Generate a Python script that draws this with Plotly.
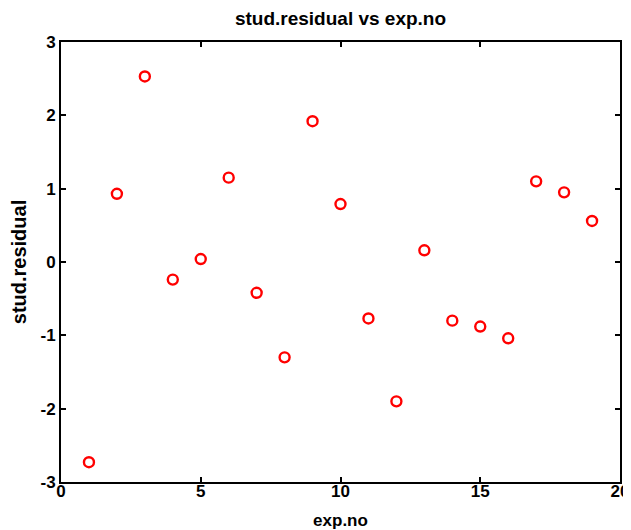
import plotly.graph_objects as go

exp_no = list(range(1, 20))
stud_residual = [-2.73, 0.93, 2.53, -0.24, 0.04, 1.15, -0.42, -1.30, 1.92, 0.79,
                 -0.77, -1.90, 0.16, -0.80, -0.88, -1.04, 1.10, 0.95, 0.56]
x_ticks = [0, 5, 10, 15, 20]
y_ticks = [-3, -2, -1, 0, 1, 2, 3]

font_family = "Liberation Sans, Arial, sans-serif"

fig = go.Figure()
fig.add_trace(go.Scatter(
    x=exp_no, y=stud_residual, mode="markers",
    marker=dict(symbol="circle-open", size=10, color="#ff0000",
                line=dict(width=2.4, color="#ff0000")),
    showlegend=False,
))

axis_common = dict(
    showgrid=False, zeroline=False, showline=True, linecolor="black",
    linewidth=2, mirror="ticks", ticks="inside", ticklen=5, tickwidth=2,
    tickcolor="black", automargin=False,
    tickfont=dict(family=font_family, size=17, color="black"),
)

# page body has an 8px default margin; figure is sized to fit inside the window
fig.update_layout(
    width=623, height=522,
    margin=dict(l=53, r=11, t=34, b=48),
    paper_bgcolor="white", plot_bgcolor="white",
    title=dict(text="<b>stud.residual vs exp.no</b>", x=0.5, xref="paper",
               xanchor="center", y=0.981, yanchor="middle", automargin=False,
               font=dict(family=font_family, size=19, color="black")),
    xaxis=dict(range=[0, 20], tickvals=x_ticks,
               ticktext=["<b>%d</b>" % v for v in x_ticks],
               ticklabelstandoff=-7,
               title=dict(text="<b>exp.no</b>", standoff=14,
                          font=dict(family=font_family, size=17, color="black")),
               **axis_common),
    yaxis=dict(range=[-3, 3], tickvals=y_ticks,
               ticktext=["<b>%d</b>" % v for v in y_ticks],
               title=dict(text="<b>stud.residual</b>", standoff=10,
                          font=dict(family=font_family, size=20, color="black")),
               **axis_common),
)

fig.write_html("out.html")
